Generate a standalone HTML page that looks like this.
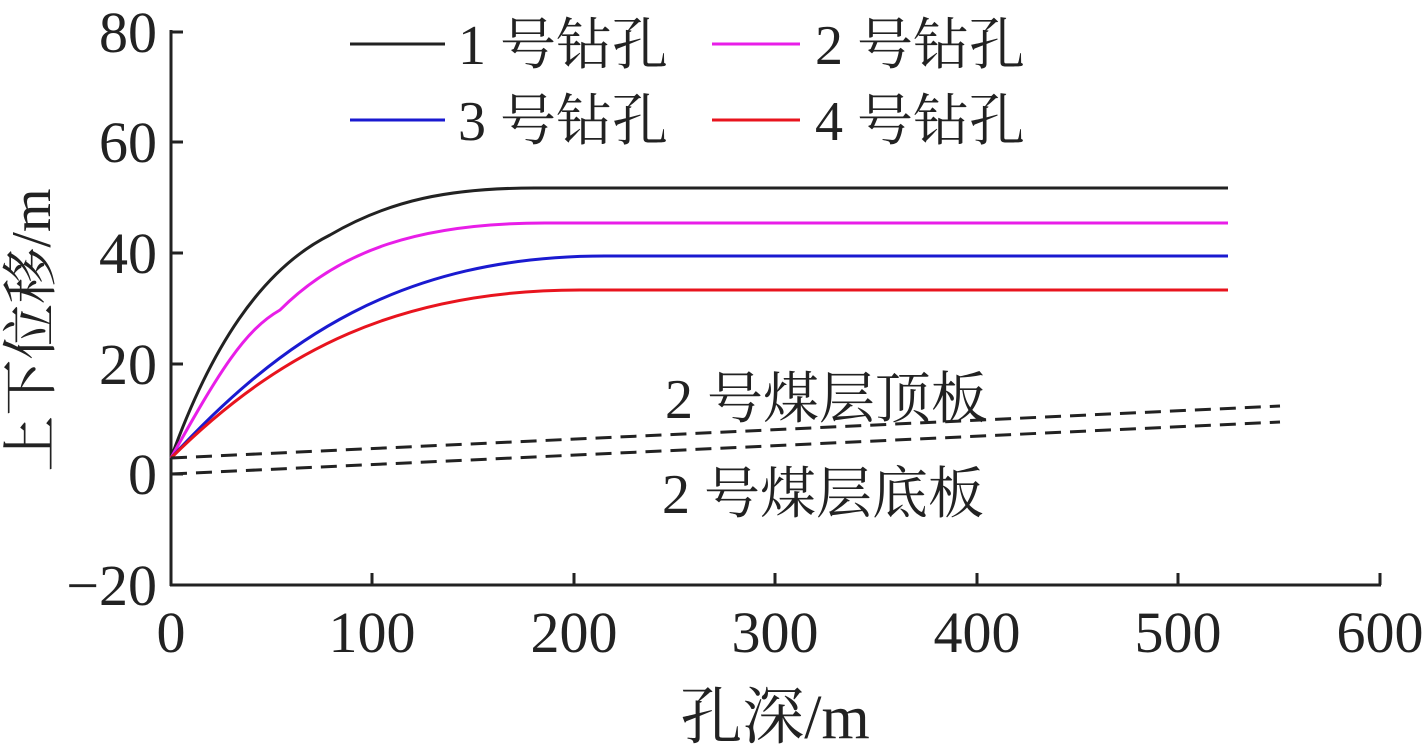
<!DOCTYPE html>
<html><head><meta charset="utf-8"><style>
html,body{margin:0;padding:0;background:#fff;}
svg{display:block;}
text{font-family:"Liberation Serif","Noto Serif CJK SC","Noto Sans CJK SC",serif;fill:#222;}
</style></head><body>
<svg width="1425" height="756" viewBox="0 0 1425 756" xmlns="http://www.w3.org/2000/svg">
<g stroke="#222" stroke-width="3" fill="none">
<line x1="171" y1="30" x2="171" y2="586"/>
<line x1="170" y1="585" x2="1381" y2="585"/>
<line x1="171" y1="32" x2="183" y2="32"/>
<line x1="171" y1="142" x2="183" y2="142"/>
<line x1="171" y1="253" x2="183" y2="253"/>
<line x1="171" y1="364" x2="183" y2="364"/>
<line x1="171" y1="474" x2="183" y2="474"/>
<line x1="372" y1="585" x2="372" y2="573"/>
<line x1="574" y1="585" x2="574" y2="573"/>
<line x1="775" y1="585" x2="775" y2="573"/>
<line x1="977" y1="585" x2="977" y2="573"/>
<line x1="1178" y1="585" x2="1178" y2="573"/>
<line x1="1380" y1="585" x2="1380" y2="573"/>
</g>
<g font-size="58" text-anchor="end">
<text x="157" y="52">80</text>
<text x="157" y="162">60</text>
<text x="157" y="273">40</text>
<text x="157" y="384">20</text>
<text x="157" y="494">0</text>
<text x="157" y="605">−20</text>
</g>
<g font-size="58" text-anchor="middle">
<text x="171" y="652">0</text>
<text x="372" y="652">100</text>
<text x="574" y="652">200</text>
<text x="775" y="652">300</text>
<text x="977" y="652">400</text>
<text x="1178" y="652">500</text>
<text x="1380" y="652">600</text>
<text x="775" y="738" font-size="62">孔深/m</text>
</g>
<text font-size="56" text-anchor="middle" transform="translate(50,330) rotate(-90)">上下位移/m</text>
<g fill="none" stroke-width="3">
<path d="M171,458 C210,350 260,270 330,235 C390,200 450,188 535,188 L1228,188" stroke="#222"/>
<path d="M171,458 C220,370 245,330 280,310 C340,250 420,223 545,223 L1228,223" stroke="#e81ee8"/>
<path d="M171,458 C280,340 400,256 605,256 L1228,256" stroke="#1a1ad0"/>
<path d="M171,458 C280,350 400,290 580,290 L1228,290" stroke="#e8141e"/>
<path d="M171,458 L1280,406" stroke="#222" stroke-dasharray="16,9"/>
<path d="M171,474 L1280,422" stroke="#222" stroke-dasharray="16,9"/>
<line x1="350" y1="44" x2="445" y2="44" stroke="#222"/>
<line x1="712" y1="44" x2="800" y2="44" stroke="#e81ee8"/>
<line x1="350" y1="120" x2="445" y2="120" stroke="#1a1ad0"/>
<line x1="712" y1="120" x2="800" y2="120" stroke="#e8141e"/>
</g>
<g font-size="56">
<text x="458" y="64">1 号钻孔</text>
<text x="815" y="64">2 号钻孔</text>
<text x="458" y="140">3 号钻孔</text>
<text x="815" y="140">4 号钻孔</text>
<text x="665" y="418">2 号煤层顶板</text>
<text x="662" y="513">2 号煤层底板</text>
</g>
</svg>
</body></html>
